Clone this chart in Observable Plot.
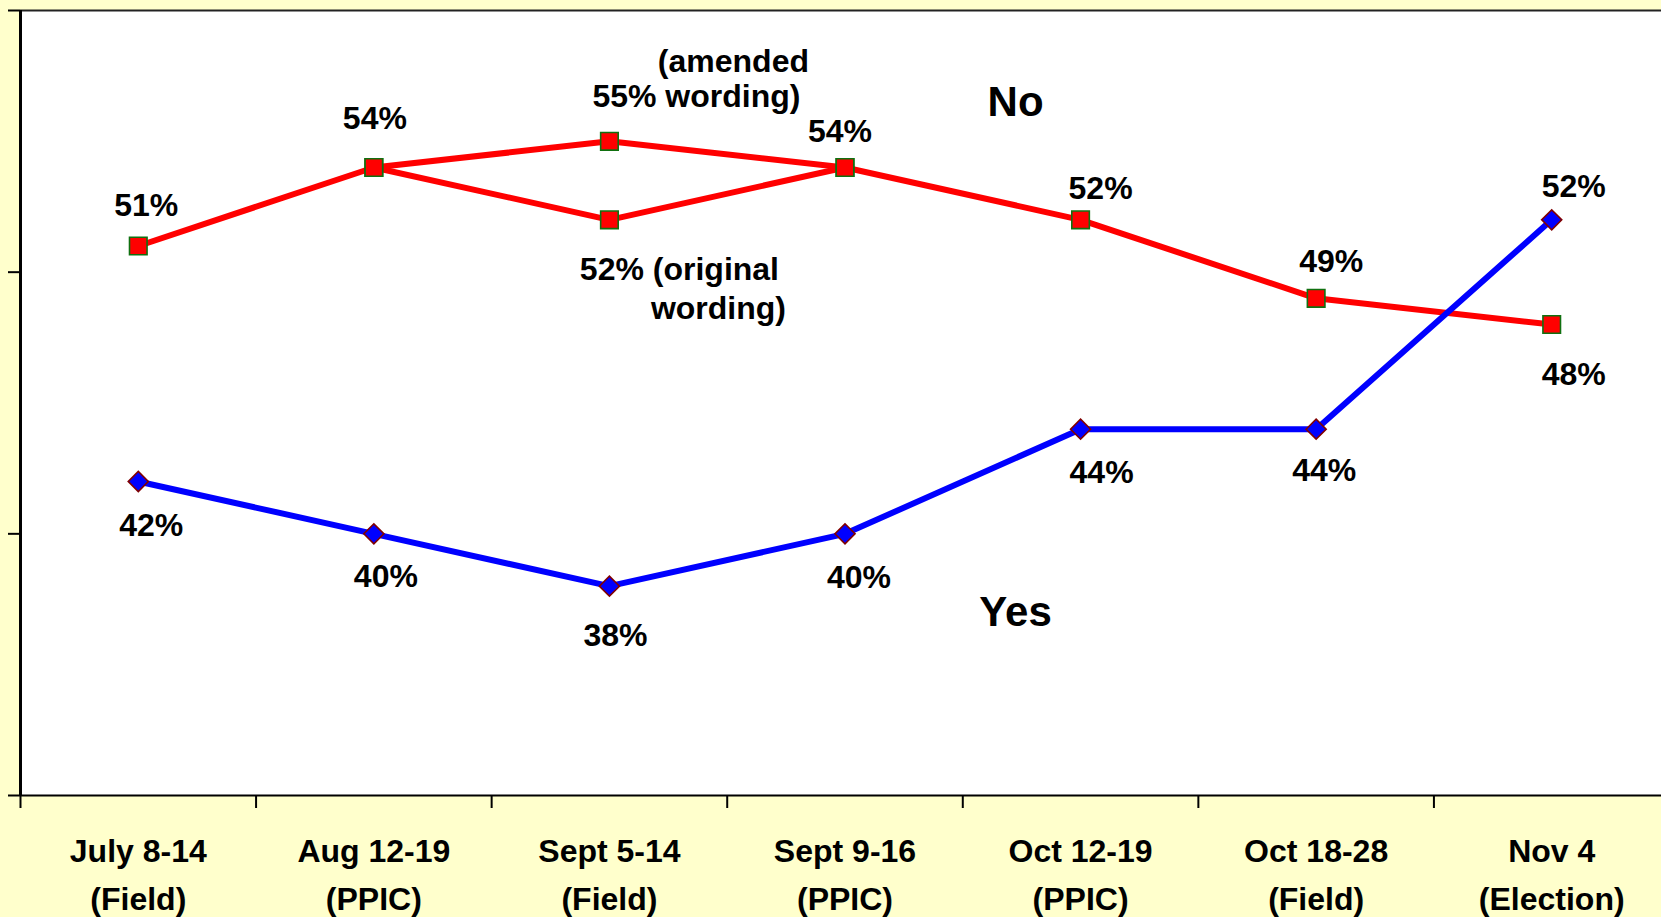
<!DOCTYPE html>
<html><head><meta charset="utf-8">
<script src="https://cdn.jsdelivr.net/npm/d3@7"></script>
<script src="https://cdn.jsdelivr.net/npm/@observablehq/plot@0.6"></script>
<style>
html,body{margin:0;padding:0;background:#FFFFCC;}
#wrap{width:1661px;height:917px;overflow:hidden;}
#wrap svg{max-width:none !important;}
</style></head><body><div id="wrap"></div>
<script>
// ---- data ----
const categories = ["July 8-14","Aug 12-19","Sept 5-14","Sept 9-16","Oct 12-19","Oct 18-28","Nov 4"];
const sources = ["Field","PPIC","Field","PPIC","PPIC","Field","Election"];
const yesValues = [42,40,38,40,44,44,52];
const noValues = [51,54,52,54,52,49,48];            // original wording
const noAmendedCategories = ["Aug 12-19","Sept 5-14","Sept 9-16"];
const noAmendedValues = [54,55,54];                 // amended wording
const yTicks = [30,40,50,60];

// ---- layout (label offsets in px) ----
const noOffsets  = [[8,-40],[1,-49],null,[-5,-36],[20,-31],[15,-37],[22,50]];
const yesOffsets = [[13,44],[12,43],[6,50],[14,44],[21,44],[8,42],[22,-33]];

const idx = c => categories.indexOf(c);
const yesRows = categories.map((c,i)=>({i, v: yesValues[i]}));
const noRows = categories.map((c,i)=>({i, v: noValues[i]}));
const amRows = noAmendedCategories.map((c,k)=>({i: idx(c), v: noAmendedValues[k]}));
const axisRows = categories.map((c,i)=>({i, t: c + "\n(" + sources[i] + ")"}));
const bounds = d3.range(categories.length + 1).map(k => k - 0.5);

const font = {fontFamily: "Liberation Sans, Arial, sans-serif", fontWeight: "bold", fill: "black"};
const lab = (rows, offs, extra={}) => rows.map((d,k)=> offs[d.i] ? Plot.text([d], {x:"i", y:"v", text: d=>d.v+"%", dx: offs[d.i][0], dy: offs[d.i][1], fontSize: 32, ...font, ...extra}) : null).filter(Boolean);

const amended = amRows.find(d => d.i === idx("Sept 5-14"));
const original = noRows[idx("Sept 5-14")];

const chart = Plot.plot({
  width: 1669, height: 917,
  marginLeft: 20, marginRight: 0, marginTop: 10, marginBottom: 122,
  x: {domain: [-0.5, categories.length - 0.5], axis: null},
  y: {domain: [30, 60], axis: null},
  style: {background: "transparent", overflow: "visible", maxWidth: "none"},
  marks: [
    Plot.frame({fill: "white", stroke: "none"}),
    Plot.ruleY([60], {stroke: "#222", strokeWidth: 2}),
    Plot.ruleY([30], {stroke: "black", strokeWidth: 2}),
    Plot.axisY({ticks: yTicks, tickSize: 12, tickFormat: () => "", stroke: "black", strokeWidth: 2, strokeOpacity: 1, label: null}),
    Plot.axisX({ticks: bounds, tickSize: 13, tickFormat: () => "", stroke: "black", strokeWidth: 2, strokeOpacity: 1, label: null}),
    Plot.ruleX([-0.5], {stroke: "black", strokeWidth: 3}),
    Plot.line(noRows, {x: "i", y: "v", stroke: "#FF0000", strokeWidth: 6}),
    Plot.line(amRows, {x: "i", y: "v", stroke: "#FF0000", strokeWidth: 6}),
    Plot.line(yesRows, {x: "i", y: "v", stroke: "#0000FF", strokeWidth: 6}),
    Plot.dot(noRows.concat(amRows), {x: "i", y: "v", symbol: "square", r: 9.9, fill: "#FF0000", stroke: "#107010", strokeWidth: 1.6}),
    Plot.dot(yesRows, {x: "i", y: "v", symbol: "square", rotate: 45, r: 8, fill: "#0000FF", stroke: "#800000", strokeWidth: 1.6}),
    ...lab(noRows, noOffsets),
    ...lab(yesRows, yesOffsets),
    Plot.text([amended], {x: "i", y: "v", text: () => "(amended", dx: 124, dy: -80, fontSize: 32, ...font}),
    Plot.text([amended], {x: "i", y: "v", text: d => d.v + "% wording)", dx: 87, dy: -45, fontSize: 32, ...font}),
    Plot.text([original], {x: "i", y: "v", text: d => d.v + "% (original", dx: 70, dy: 50, fontSize: 32, ...font}),
    Plot.text([original], {x: "i", y: "v", text: () => "wording)", dx: 109, dy: 89, fontSize: 32, ...font}),
    Plot.text(["No"], {x: 3.724, y: 56.5, text: d => d, fontSize: 42, ...font}),
    Plot.text(["Yes"], {x: 3.724, y: 37.0, text: d => d, fontSize: 42, ...font}),
    Plot.text(axisRows, {x: "i", y: 30, text: "t", dy: 75, lineHeight: 1.5, fontSize: 32, ...font})
  ]
});
chart.style.maxWidth = "none";
document.getElementById("wrap").appendChild(chart);
</script></body></html>
